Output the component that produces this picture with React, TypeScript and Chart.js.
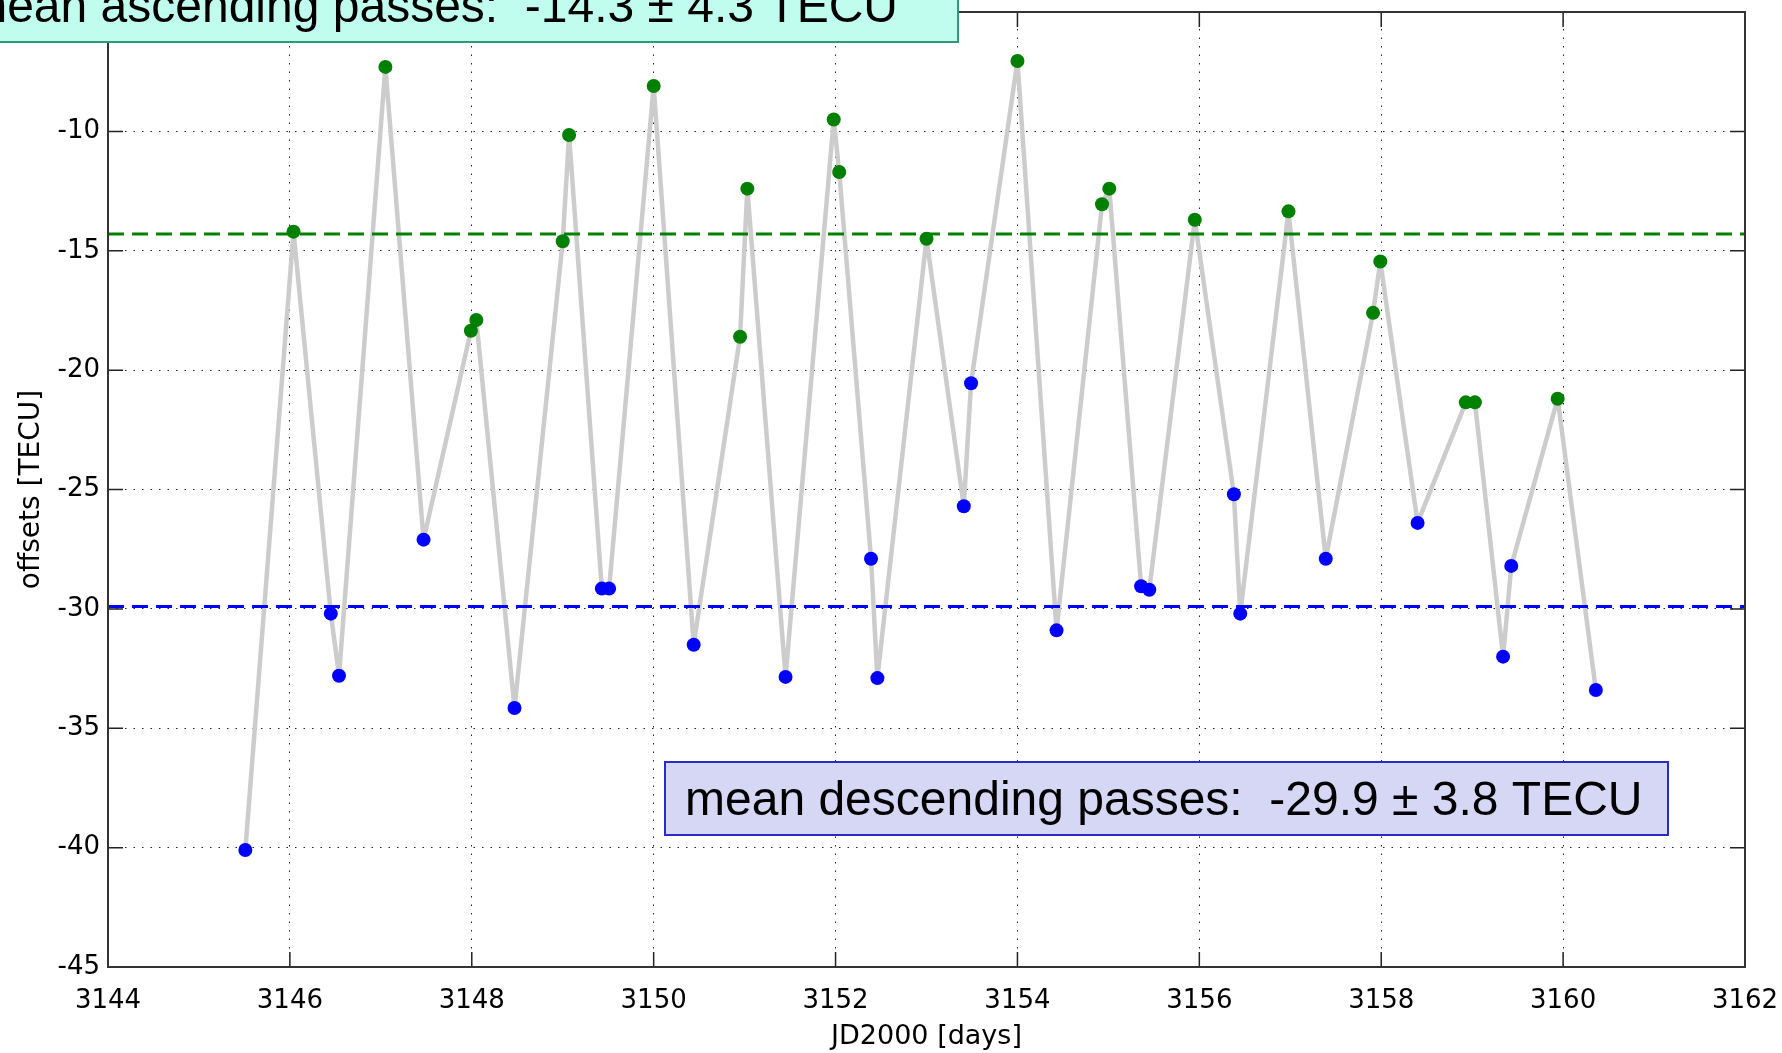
import React, { useEffect, useRef } from "react";
import { Chart, registerables } from "chart.js";

Chart.register(...registerables);

// JD2000 epoch of each pass (days)
const days = [
  3145.51, 3146.04, 3146.45, 3146.54, 3147.05, 3147.47, 3147.99, 3148.05, 3148.47,
  3149.0, 3149.07, 3149.43, 3149.51, 3150.0, 3150.44, 3150.95, 3151.03, 3151.45,
  3151.98, 3152.04, 3152.39, 3152.46, 3153.0, 3153.41, 3153.49, 3154.0, 3154.43,
  3154.93, 3155.01, 3155.36, 3155.45, 3155.95, 3156.38, 3156.45, 3156.98, 3157.39,
  3157.91, 3157.99, 3158.4, 3158.93, 3159.03, 3159.34, 3159.43, 3159.94, 3160.36,
];
// offsets [TECU]
const offsets = [
  -40.1, -14.2, -30.2, -32.8, -7.3, -27.1, -18.35, -17.9, -34.15,
  -14.6, -10.15, -29.15, -29.15, -8.1, -31.5, -18.6, -12.4, -32.85,
  -9.5, -11.7, -27.9, -32.9, -14.5, -25.7, -20.55, -7.05, -30.9,
  -13.05, -12.4, -29.05, -29.2, -13.7, -25.2, -30.2, -13.35, -27.9,
  -17.6, -15.45, -26.4, -21.35, -21.35, -32.0, -28.2, -21.2, -33.4,
];
// pass direction: A = ascending, D = descending
const passType = [
  "D", "A", "D", "D", "A", "D", "A", "A", "D",
  "A", "A", "D", "D", "A", "D", "A", "A", "D",
  "A", "A", "D", "D", "A", "D", "D", "A", "D",
  "A", "A", "D", "D", "A", "D", "D", "A", "D",
  "A", "A", "D", "A", "A", "D", "D", "A", "D",
];

const ascendingMean = -14.3;
const ascendingStd = 4.3;
const descendingMean = -29.9;
const descendingStd = 3.8;

const xMin = 3144;
const xMax = 3162;
const xStep = 2;
const yMin = -45;
const yMax = -5;
const yStep = 5;

const xTitle = "JD2000 [days]";
const yTitle = "offsets [TECU]";
const ascLabel = `mean ascending passes:  ${ascendingMean.toFixed(1)} \u00b1 ${ascendingStd.toFixed(1)} TECU`;
const descLabel = `mean descending passes:  ${descendingMean.toFixed(1)} \u00b1 ${descendingStd.toFixed(1)} TECU`;

const AXIS_FONT = "'DejaVu Sans', 'Liberation Sans', Arial, sans-serif";
const BOX_FONT = "48px 'Liberation Sans', Arial, sans-serif";

const framePlugin = {
  id: "frame",
  afterDraw(chart: any) {
    const { ctx, chartArea: a, scales } = chart;
    const xs = scales.x;
    const ys = scales.y;
    ctx.save();
    // inward tick marks on all four sides
    ctx.strokeStyle = "#222";
    ctx.lineWidth = 1.5;
    const tl = 15;
    ctx.beginPath();
    xs.ticks.forEach((t: any) => {
      const px = xs.getPixelForValue(t.value);
      ctx.moveTo(px, a.bottom);
      ctx.lineTo(px, a.bottom - tl);
      ctx.moveTo(px, a.top);
      ctx.lineTo(px, a.top + tl);
    });
    ys.ticks.forEach((t: any) => {
      const py = ys.getPixelForValue(t.value);
      ctx.moveTo(a.left, py);
      ctx.lineTo(a.left + tl, py);
      ctx.moveTo(a.right, py);
      ctx.lineTo(a.right - tl, py);
    });
    ctx.stroke();
    // frame
    ctx.strokeStyle = "#333";
    ctx.lineWidth = 2;
    ctx.strokeRect(a.left, a.top, a.right - a.left, a.bottom - a.top);

    // ascending annotation box (top-left, partially off the page)
    ctx.fillStyle = "#c1fdee";
    ctx.strokeStyle = "#2e9a78";
    ctx.lineWidth = 2;
    ctx.fillRect(-20, -35, 978, 77);
    ctx.strokeRect(-20, -35, 978, 77);
    ctx.fillStyle = "#000";
    ctx.font = BOX_FONT;
    ctx.textAlign = "right";
    ctx.textBaseline = "alphabetic";
    ctx.fillText(ascLabel, 898, 22);

    // descending annotation box
    ctx.fillStyle = "#d5d7f5";
    ctx.strokeStyle = "#2a2ac8";
    ctx.fillRect(665, 762, 1003, 73);
    ctx.strokeRect(665, 762, 1003, 73);
    ctx.fillStyle = "#000";
    ctx.textAlign = "left";
    ctx.fillText(descLabel, 685, 815);
    ctx.restore();
  },
};

export default function App() {
  const ref = useRef<HTMLCanvasElement | null>(null);

  useEffect(() => {
    const canvas = ref.current;
    if (!canvas) return;
    const pts = days.map((d, i) => ({ x: d, y: offsets[i] }));
    const asc = pts.filter((_, i) => passType[i] === "A");
    const desc = pts.filter((_, i) => passType[i] === "D");

    const chart = new Chart(canvas, {
      type: "scatter",
      data: {
        datasets: [
          {
            data: asc,
            backgroundColor: "#008000",
            borderColor: "#008000",
            pointRadius: 7,
            pointBorderWidth: 0,
            showLine: false,
            order: 0,
          },
          {
            data: desc,
            backgroundColor: "#0000ff",
            borderColor: "#0000ff",
            pointRadius: 7,
            pointBorderWidth: 0,
            showLine: false,
            order: 0,
          },
          {
            data: [
              { x: xMin, y: ascendingMean },
              { x: xMax, y: ascendingMean },
            ],
            showLine: true,
            borderColor: "#008000",
            borderWidth: 3,
            borderDash: [16, 8],
            pointRadius: 0,
            order: 1,
          },
          {
            data: [
              { x: xMin, y: descendingMean },
              { x: xMax, y: descendingMean },
            ],
            showLine: true,
            borderColor: "#0000ff",
            borderWidth: 3,
            borderDash: [16, 8],
            pointRadius: 0,
            order: 1,
          },
          {
            data: pts,
            showLine: true,
            borderColor: "#cccccc",
            borderWidth: 4.5,
            borderJoinStyle: "round",
            borderCapStyle: "round",
            pointRadius: 0,
            tension: 0,
            order: 2,
          },
        ],
      },
      options: {
        animation: false,
        responsive: false,
        devicePixelRatio: 1,
        layout: { padding: { left: 0, right: 37, top: 12, bottom: 0 } },
        plugins: {
          legend: { display: false },
          tooltip: { enabled: false },
        },
        scales: {
          x: {
            type: "linear",
            min: xMin,
            max: xMax,
            ticks: {
              stepSize: xStep,
              color: "#000",
              font: { family: AXIS_FONT, size: 26 },
              padding: 19,
              maxRotation: 0,
              callback: (v: any) => String(v),
            },
            grid: { color: "#222", lineWidth: 1, drawTicks: false },
            border: { display: false, dash: [1.5, 7] },
            title: {
              display: true,
              text: xTitle,
              color: "#000",
              font: { family: AXIS_FONT, size: 27 },
              padding: { top: 0, bottom: 0 },
            },
            afterFit: (s: any) => {
              s.height = 86;
              s.paddingLeft = 0;
              s.paddingRight = 0;
            },
          },
          y: {
            type: "linear",
            min: yMin,
            max: yMax,
            ticks: {
              stepSize: yStep,
              color: "#000",
              font: { family: AXIS_FONT, size: 26 },
              padding: 8,
            },
            grid: { color: "#222", lineWidth: 1, drawTicks: false },
            border: { display: false, dash: [1.5, 7] },
            title: {
              display: true,
              text: yTitle,
              color: "#000",
              font: { family: AXIS_FONT, size: 28 },
              padding: { top: 15, bottom: 0 },
            },
            afterFit: (s: any) => {
              s.width = 108;
              s.paddingTop = 0;
              s.paddingBottom = 0;
            },
          },
        },
      },
      plugins: [framePlugin],
    } as any);

    return () => chart.destroy();
  }, []);

  return (
    <div
      style={{
        position: "fixed",
        left: 0,
        top: 0,
        width: 1782,
        height: 1053,
        background: "#fff",
      }}
    >
      <canvas ref={ref} width={1782} height={1053} style={{ display: "block" }} />
    </div>
  );
}
